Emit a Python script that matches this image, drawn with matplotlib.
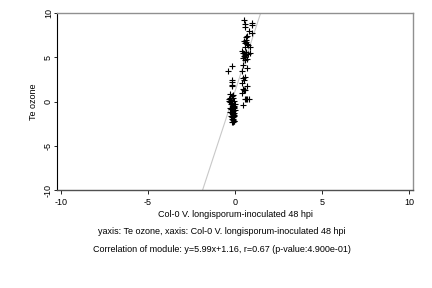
import matplotlib
matplotlib.use("Agg")
import matplotlib.pyplot as plt
import numpy as np

plt.rcParams['font.family'] = ['Liberation Sans', 'DejaVu Sans']

# cluster near x=0 and cluster near x=0.6
x_vals = [-0.38, -0.15, -0.15, -0.15, -0.17, -0.15, -0.29,
          -0.35, -0.30, -0.25, -0.20, -0.12, -0.10, -0.05,
          -0.33, -0.28, -0.22, -0.18, -0.10, -0.06, -0.02,
          -0.30, -0.24, -0.17, -0.12, -0.08, -0.04,
          -0.26, -0.20, -0.14, -0.10, -0.06, -0.02,
          -0.22, -0.16, -0.12, -0.08, -0.04,
          -0.20, -0.14, -0.10, -0.06, -0.18, -0.12, -0.08,
          0.54, 1.00, 1.00, 0.57, 0.57, 0.82, 1.00, 0.71, 0.61,
          0.50, 0.56, 0.62, 0.68, 0.74, 0.60, 0.66, 0.86,
          0.40, 0.46, 0.55, 0.64, 0.72, 0.86, 0.50, 0.58,
          0.46, 0.58, 0.70, 0.48, 0.67, 0.42,
          0.48, 0.52, 0.58, 0.42, 0.67, 0.48, 0.58, 0.42,
          0.58, 0.67, 0.82, 0.48, 0.62, 0.50]
y_vals = [3.50, 4.00, 2.45, 2.26, 1.90, 1.70, 0.83,
          0.30, 0.35, 0.20, 0.60, 0.70, 0.40, 0.10,
          0.05, -0.10, -0.30, -0.20, -0.45, -0.60, -0.30,
          -0.70, -0.80, -0.90, -1.00, -0.75, -0.55,
          -1.20, -1.30, -1.10, -1.40, -1.25, -1.00,
          -1.60, -1.70, -1.80, -1.50, -1.65,
          -2.00, -2.10, -1.95, -2.20, -2.30, -2.30, -2.25,
          9.25, 8.90, 8.60, 8.70, 8.40, 8.00, 7.70, 7.40, 7.30,
          6.80, 6.60, 6.70, 6.50, 6.40, 6.20, 6.90, 6.20,
          5.70, 5.50, 5.30, 5.60, 5.40, 5.50, 5.10, 5.00,
          4.90, 4.70, 4.80, 4.15, 3.80, 3.40,
          2.60, 2.45, 2.80, 2.10, 1.80, 1.40, 1.25, 1.00,
          0.30, 0.30, 0.30, -0.38, 0.25, 1.30]

slope = 5.99
intercept = 1.16
x_label = "Col-0 V. longisporum-inoculated 48 hpi"
y_label = "Te ozone"
line1 = "yaxis: Te ozone, xaxis: Col-0 V. longisporum-inoculated 48 hpi"
line2 = "Correlation of module: y=5.99x+1.16, r=0.67 (p-value:4.900e-01)"
ticks = [-10, -5, 0, 5, 10]

fig = plt.figure(figsize=(4.32, 2.88), dpi=100)
ax = fig.add_axes([0.132, 0.340, 0.824, 0.615])

xl = np.array([-10.23, 10.23])
ax.plot(xl, slope * xl + intercept, color='#c8c8c8', lw=0.8, zorder=1)
ax.scatter(x_vals, y_vals, marker='+', s=16, c='black', linewidths=0.8, zorder=2)

ax.set_xlim(-10.23, 10.23)
ax.set_ylim(-10, 10)
ax.set_xticks(ticks)
ax.set_yticks(ticks)
ax.set_xticklabels([str(t) for t in ticks], fontsize=6.5)
ax.set_yticklabels([str(t) for t in ticks], fontsize=6.5, rotation=90, va='center')
ax.tick_params(axis='x', length=3, width=0.6, pad=3)
ax.tick_params(axis='y', length=2, width=0.6, pad=1)

for s in ['top', 'right']:
    ax.spines[s].set_color('#909090')
    ax.spines[s].set_linewidth(1.0)
ax.spines['left'].set_color('black')
ax.spines['left'].set_linewidth(0.8)
ax.spines['bottom'].set_color('#505050')
ax.spines['bottom'].set_linewidth(1.0)

ax.set_xlabel(x_label, fontsize=6.5, labelpad=2)
ax.set_ylabel(y_label, fontsize=6.5, labelpad=4)

fig.text(0.513, 1 - 232 / 288, line1, fontsize=6.5, ha='center', va='center')
fig.text(0.513, 1 - 249 / 288, line2, fontsize=6.5, ha='center', va='center')

fig.savefig("out.png", dpi=100)
